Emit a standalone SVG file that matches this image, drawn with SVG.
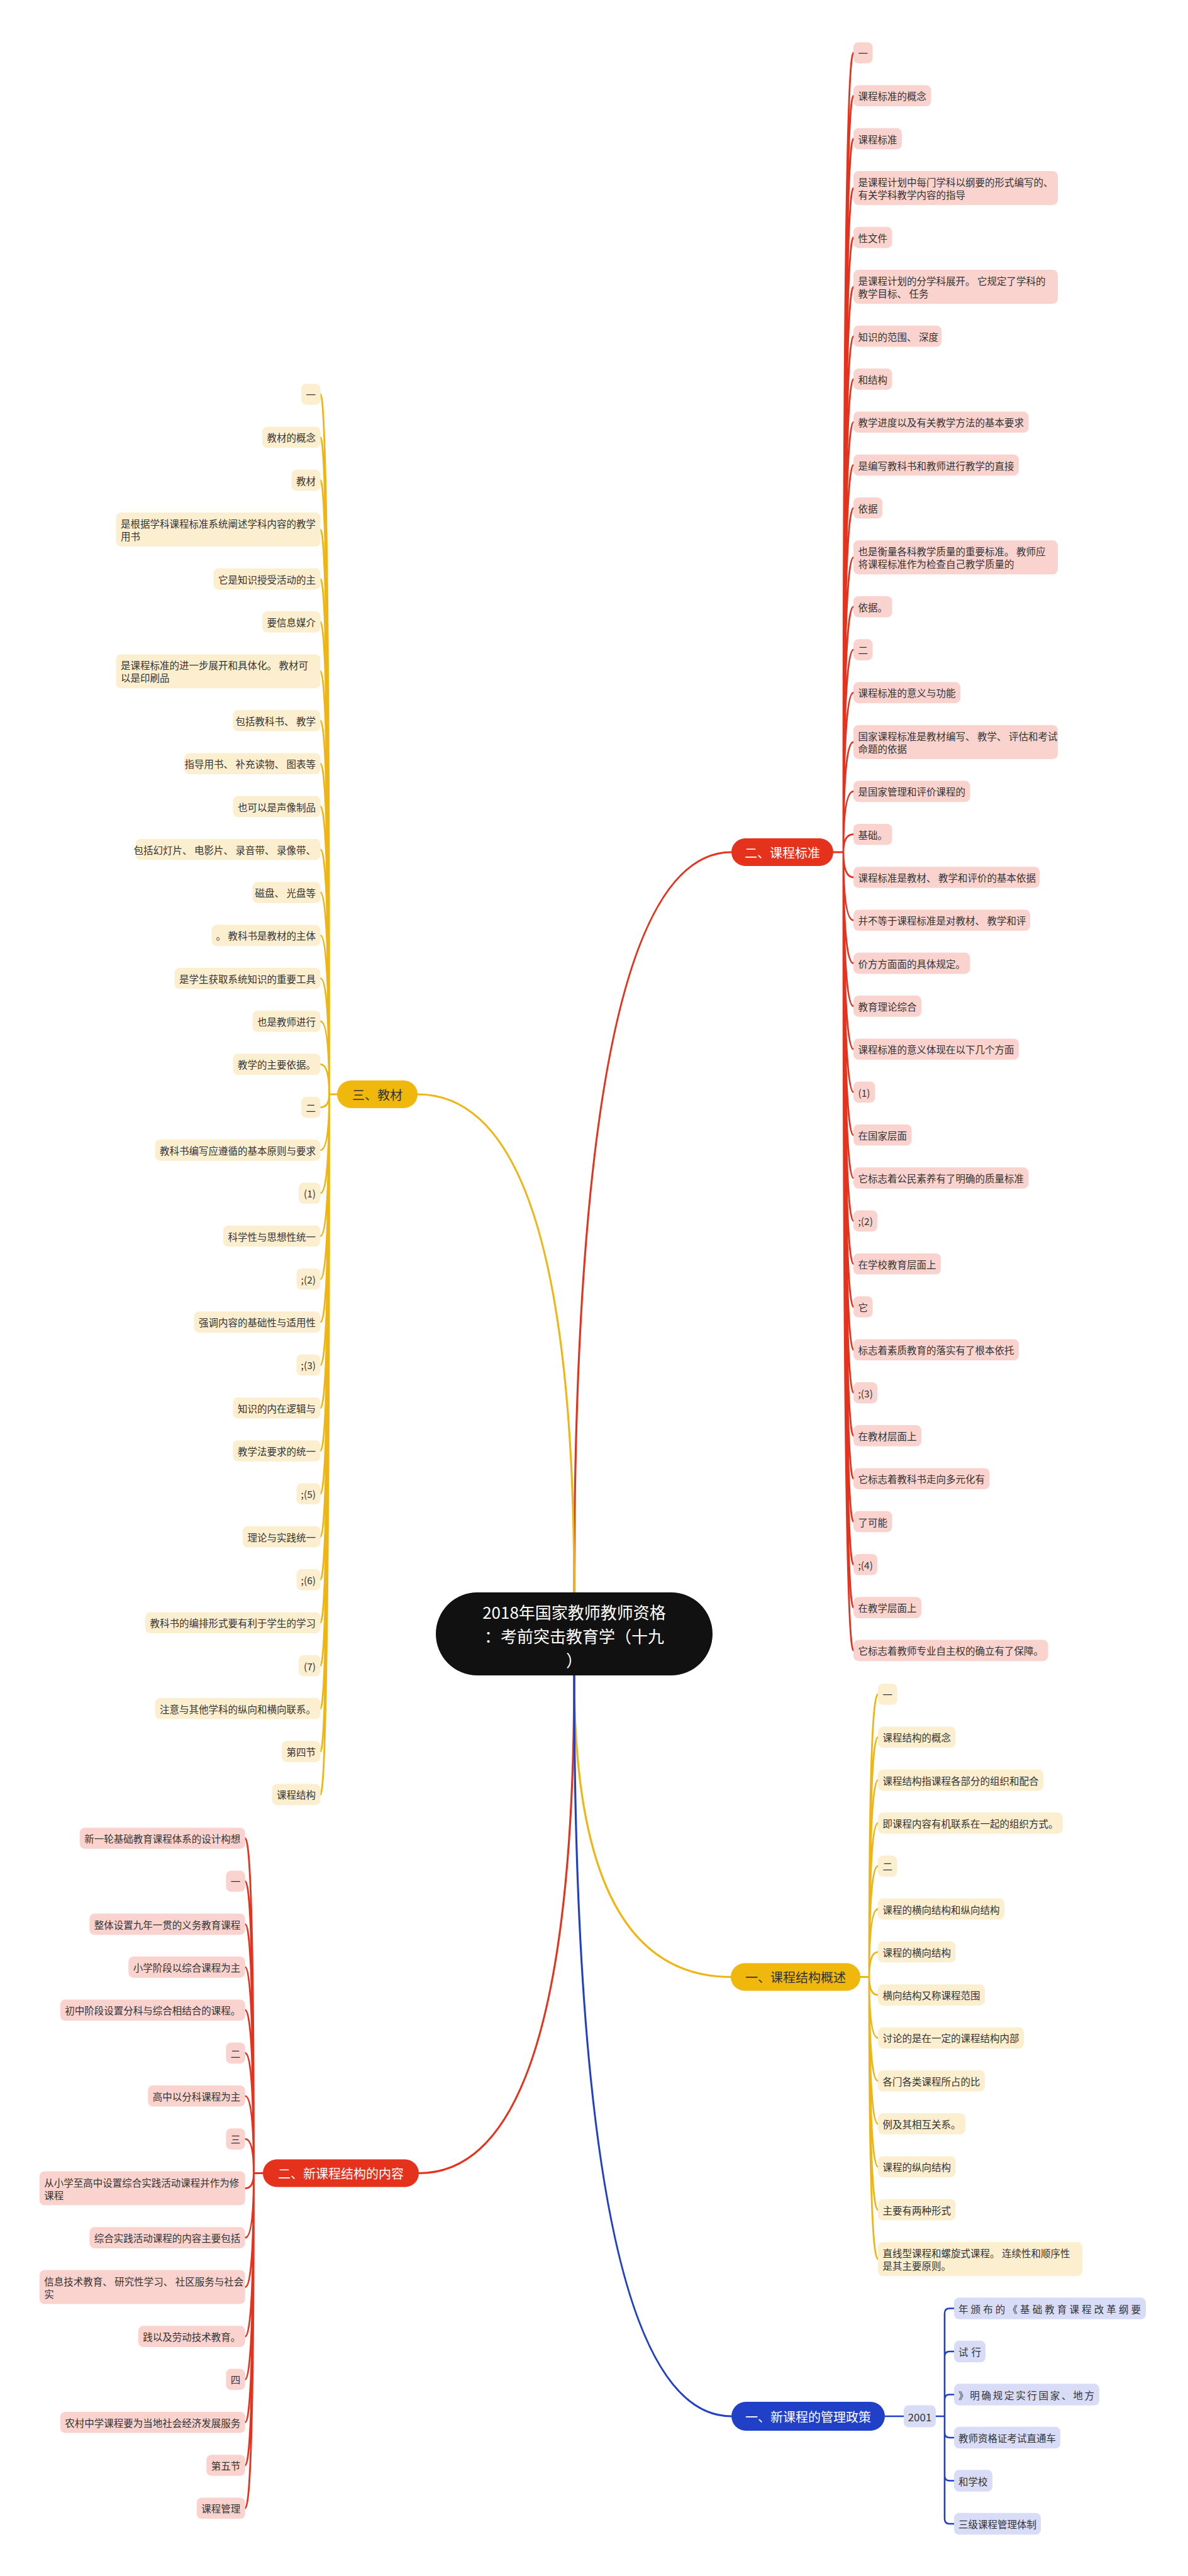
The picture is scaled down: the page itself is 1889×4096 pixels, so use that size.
<svg xmlns="http://www.w3.org/2000/svg" width="1889" height="4096" viewBox="0 0 1889 4096">
<style>
.t{font-family:"Noto Sans CJK SC","Noto Sans",sans-serif;font-size:15.5px;fill:#333;dominant-baseline:central}
.e{text-anchor:end}
.mid{text-anchor:middle}
.m{font-size:20px}
.w{fill:#fff}
.pr{fill:#FAD3CE}
.py{fill:#FCEFD0}
.pb{fill:#D9DCF6}
.cr{stroke:#E5321D;fill:none;stroke-width:2.8;stroke-linecap:round}
.cy{stroke:#EEB514;fill:none;stroke-width:2.8;stroke-linecap:round}
.cb{stroke:#2140C8;fill:none;stroke-width:2.6}
.mc{stroke-width:3.2}
</style>
<rect width="1889" height="4096" fill="#fff"/>
<g id="connectors">
<path class="cr mc" d="M913 2532Q913 1355 1163 1355"/>
<path class="cy mc" d="M913 2532Q913 1740 664 1740"/>
<path class="cy mc" d="M913 2664Q913 3143.5 1162 3143.5"/>
<path class="cr mc" d="M913 2664Q913 3455.5 666 3455.5"/>
<path class="cb mc" d="M913 2664Q913 3842 1163 3842"/>
<path class="cr" d="M1325 1355H1341M1341 1355Q1341 84 1357 84M1341 1355Q1341 152.3 1357 152.3M1341 1355Q1341 220.6 1357 220.6M1341 1355Q1341 299.1 1357 299.1M1341 1355Q1341 377.6 1357 377.6M1341 1355Q1341 456.1 1357 456.1M1341 1355Q1341 534.6 1357 534.6M1341 1355Q1341 602.9 1357 602.9M1341 1355Q1341 671.2 1357 671.2M1341 1355Q1341 739.5 1357 739.5M1341 1355Q1341 807.8 1357 807.8M1341 1355Q1341 886.3 1357 886.3M1341 1355Q1341 964.8 1357 964.8M1341 1355Q1341 1033.1 1357 1033.1M1341 1355Q1341 1101.4 1357 1101.4M1341 1355Q1341 1179.9 1357 1179.9M1341 1355Q1341 1258.4 1357 1258.4M1341 1355Q1341 1326.7 1357 1326.7M1341 1355Q1341 1395 1357 1395M1341 1355Q1341 1463.3 1357 1463.3M1341 1355Q1341 1531.6 1357 1531.6M1341 1355Q1341 1599.9 1357 1599.9M1341 1355Q1341 1668.2 1357 1668.2M1341 1355Q1341 1736.5 1357 1736.5M1341 1355Q1341 1804.8 1357 1804.8M1341 1355Q1341 1873.1 1357 1873.1M1341 1355Q1341 1941.4 1357 1941.4M1341 1355Q1341 2009.7 1357 2009.7M1341 1355Q1341 2078 1357 2078M1341 1355Q1341 2146.3 1357 2146.3M1341 1355Q1341 2214.6 1357 2214.6M1341 1355Q1341 2282.9 1357 2282.9M1341 1355Q1341 2351.2 1357 2351.2M1341 1355Q1341 2419.5 1357 2419.5M1341 1355Q1341 2487.8 1357 2487.8M1341 1355Q1341 2556.1 1357 2556.1M1341 1355Q1341 2624.4 1357 2624.4"/>
<path class="cy" d="M536 1740H523.5M523.5 1740Q523.5 627 509.5 627M523.5 1740Q523.5 695.3 509.5 695.3M523.5 1740Q523.5 763.6 509.5 763.6M523.5 1740Q523.5 842.1 509.5 842.1M523.5 1740Q523.5 920.6 509.5 920.6M523.5 1740Q523.5 988.9 509.5 988.9M523.5 1740Q523.5 1067.4 509.5 1067.4M523.5 1740Q523.5 1145.9 509.5 1145.9M523.5 1740Q523.5 1214.2 509.5 1214.2M523.5 1740Q523.5 1282.5 509.5 1282.5M523.5 1740Q523.5 1350.8 509.5 1350.8M523.5 1740Q523.5 1419.1 509.5 1419.1M523.5 1740Q523.5 1487.4 509.5 1487.4M523.5 1740Q523.5 1555.7 509.5 1555.7M523.5 1740Q523.5 1624 509.5 1624M523.5 1740Q523.5 1692.3 509.5 1692.3M523.5 1740Q523.5 1760.6 509.5 1760.6M523.5 1740Q523.5 1828.9 509.5 1828.9M523.5 1740Q523.5 1897.2 509.5 1897.2M523.5 1740Q523.5 1965.5 509.5 1965.5M523.5 1740Q523.5 2033.8 509.5 2033.8M523.5 1740Q523.5 2102.1 509.5 2102.1M523.5 1740Q523.5 2170.4 509.5 2170.4M523.5 1740Q523.5 2238.7 509.5 2238.7M523.5 1740Q523.5 2307 509.5 2307M523.5 1740Q523.5 2375.3 509.5 2375.3M523.5 1740Q523.5 2443.6 509.5 2443.6M523.5 1740Q523.5 2511.9 509.5 2511.9M523.5 1740Q523.5 2580.2 509.5 2580.2M523.5 1740Q523.5 2648.5 509.5 2648.5M523.5 1740Q523.5 2716.8 509.5 2716.8M523.5 1740Q523.5 2785.1 509.5 2785.1M523.5 1740Q523.5 2853.4 509.5 2853.4"/>
<path class="cy" d="M1368 3143.5H1382M1382 3143.5Q1382 2694 1396 2694M1382 3143.5Q1382 2762.3 1396 2762.3M1382 3143.5Q1382 2830.6 1396 2830.6M1382 3143.5Q1382 2898.9 1396 2898.9M1382 3143.5Q1382 2967.2 1396 2967.2M1382 3143.5Q1382 3035.5 1396 3035.5M1382 3143.5Q1382 3103.8 1396 3103.8M1382 3143.5Q1382 3172.1 1396 3172.1M1382 3143.5Q1382 3240.4 1396 3240.4M1382 3143.5Q1382 3308.7 1396 3308.7M1382 3143.5Q1382 3377 1396 3377M1382 3143.5Q1382 3445.3 1396 3445.3M1382 3143.5Q1382 3513.6 1396 3513.6M1382 3143.5Q1382 3592.1 1396 3592.1"/>
<path class="cr" d="M418 3455.5H403.5M403.5 3455.5Q403.5 2923 389.8 2923M403.5 3455.5Q403.5 2991.3 389.8 2991.3M403.5 3455.5Q403.5 3059.6 389.8 3059.6M403.5 3455.5Q403.5 3127.9 389.8 3127.9M403.5 3455.5Q403.5 3196.2 389.8 3196.2M403.5 3455.5Q403.5 3264.5 389.8 3264.5M403.5 3455.5Q403.5 3332.8 389.8 3332.8M403.5 3455.5Q403.5 3401.1 389.8 3401.1M403.5 3455.5Q403.5 3479.6 389.8 3479.6M403.5 3455.5Q403.5 3558.1 389.8 3558.1M403.5 3455.5Q403.5 3636.6 389.8 3636.6M403.5 3455.5Q403.5 3715.1 389.8 3715.1M403.5 3455.5Q403.5 3783.4 389.8 3783.4M403.5 3455.5Q403.5 3851.7 389.8 3851.7M403.5 3455.5Q403.5 3920 389.8 3920M403.5 3455.5Q403.5 3988.3 389.8 3988.3"/>
<path class="cb" d="M1407 3842H1437M1488 3842H1502M1502 3842V3678.5Q1502 3670.5 1510 3670.5H1517M1502 3842V3747Q1502 3739 1510 3739H1517M1502 3842V3815.5Q1502 3807.5 1510 3807.5H1517M1502 3842V3868Q1502 3876 1510 3876H1517M1502 3842V3936.5Q1502 3944.5 1510 3944.5H1517M1502 3842V4005Q1502 4013 1510 4013H1517"/>
</g>

<g id="center">
<rect x="693" y="2532" width="440" height="132" rx="66" fill="#111"/>
<text class="t mid w" style="font-size:26px" x="913" y="2562">2018年国家教师教师资格</text>
<text class="t mid w" style="font-size:26px" x="913" y="2600">：考前突击教育学（十九</text>
<text class="t mid w" style="font-size:26px" x="913" y="2638">）</text>
</g>

<g id="main-kcbz"><rect x="1163" y="1333" width="162" height="44" rx="22" fill="#E5321D"/><text class="t m mid w" x="1244" y="1355">二、课程标准</text></g>
<g id="main-jc"><rect x="536" y="1718" width="128" height="44" rx="22" fill="#F0B70C"/><text class="t m mid" x="600" y="1740">三、教材</text></g>
<g id="main-kcjg"><rect x="1162" y="3121.5" width="206" height="44" rx="22" fill="#F0B70C"/><text class="t m mid" x="1265" y="3143.5">一、课程结构概述</text></g>
<g id="main-xkcjg"><rect x="418" y="3433.5" width="248" height="44" rx="22" fill="#E5321D"/><text class="t m mid w" x="542" y="3455.5">二、新课程结构的内容</text></g>
<g id="main-glzc"><rect x="1163" y="3819" width="244" height="46" rx="23" fill="#2140C8"/><text class="t m mid w" x="1285" y="3842">一、新课程的管理政策</text></g>

<g id="r1"><rect class="pr" x="1357" y="67.2" width="30.5" height="33.6" rx="8"/><text class="t" x="1364.5" y="84">一</text></g>
<g id="r2"><rect class="pr" x="1357" y="135.5" width="123.5" height="33.6" rx="8"/><text class="t" x="1364.5" y="152.3">课程标准的概念</text></g>
<g id="r3"><rect class="pr" x="1357" y="203.8" width="77" height="33.6" rx="8"/><text class="t" x="1364.5" y="220.6">课程标准</text></g>
<g id="r4"><rect class="pr" x="1357" y="272.1" width="325" height="54" rx="8"/><text class="t" x="1364.5" y="289.1">是课程计划中每门学科以纲要的形式编写的、</text><text class="t" x="1364.5" y="309.1">有关学科教学内容的指导</text></g>
<g id="r5"><rect class="pr" x="1357" y="360.8" width="61.5" height="33.6" rx="8"/><text class="t" x="1364.5" y="377.6">性文件</text></g>
<g id="r6"><rect class="pr" x="1357" y="429.1" width="325" height="54" rx="8"/><text class="t" x="1364.5" y="446.1">是课程计划的分学科展开。 它规定了学科的</text><text class="t" x="1364.5" y="466.1">教学目标、 任务</text></g>
<g id="r7"><rect class="pr" x="1357" y="517.8" width="140" height="33.6" rx="8"/><text class="t" x="1364.5" y="534.6">知识的范围、 深度</text></g>
<g id="r8"><rect class="pr" x="1357" y="586.1" width="61.5" height="33.6" rx="8"/><text class="t" x="1364.5" y="602.9">和结构</text></g>
<g id="r9"><rect class="pr" x="1357" y="654.4" width="278.5" height="33.6" rx="8"/><text class="t" x="1364.5" y="671.2">教学进度以及有关教学方法的基本要求</text></g>
<g id="r10"><rect class="pr" x="1357" y="722.7" width="263" height="33.6" rx="8"/><text class="t" x="1364.5" y="739.5">是编写教科书和教师进行教学的直接</text></g>
<g id="r11"><rect class="pr" x="1357" y="791" width="46" height="33.6" rx="8"/><text class="t" x="1364.5" y="807.8">依据</text></g>
<g id="r12"><rect class="pr" x="1357" y="859.3" width="325" height="54" rx="8"/><text class="t" x="1364.5" y="876.3">也是衡量各科教学质量的重要标准。 教师应</text><text class="t" x="1364.5" y="896.3">将课程标准作为检查自己教学质量的</text></g>
<g id="r13"><rect class="pr" x="1357" y="948" width="61.5" height="33.6" rx="8"/><text class="t" x="1364.5" y="964.8">依据。</text></g>
<g id="r14"><rect class="pr" x="1357" y="1016.3" width="30.5" height="33.6" rx="8"/><text class="t" x="1364.5" y="1033.1">二</text></g>
<g id="r15"><rect class="pr" x="1357" y="1084.6" width="170" height="33.6" rx="8"/><text class="t" x="1364.5" y="1101.4">课程标准的意义与功能</text></g>
<g id="r16"><rect class="pr" x="1357" y="1152.9" width="325" height="54" rx="8"/><text class="t" x="1364.5" y="1169.9">国家课程标准是教材编写、 教学、 评估和考试</text><text class="t" x="1364.5" y="1189.9">命题的依据</text></g>
<g id="r17"><rect class="pr" x="1357" y="1241.6" width="185.5" height="33.6" rx="8"/><text class="t" x="1364.5" y="1258.4">是国家管理和评价课程的</text></g>
<g id="r18"><rect class="pr" x="1357" y="1309.9" width="61.5" height="33.6" rx="8"/><text class="t" x="1364.5" y="1326.7">基础。</text></g>
<g id="r19"><rect class="pr" x="1357" y="1378.2" width="296" height="33.6" rx="8"/><text class="t" x="1364.5" y="1395">课程标准是教材、 教学和评价的基本依据</text></g>
<g id="r20"><rect class="pr" x="1357" y="1446.5" width="281" height="33.6" rx="8"/><text class="t" x="1364.5" y="1463.3">并不等于课程标准是对教材、 教学和评</text></g>
<g id="r21"><rect class="pr" x="1357" y="1514.8" width="185.5" height="33.6" rx="8"/><text class="t" x="1364.5" y="1531.6">价方方面面的具体规定。</text></g>
<g id="r22"><rect class="pr" x="1357" y="1583.1" width="108" height="33.6" rx="8"/><text class="t" x="1364.5" y="1599.9">教育理论综合</text></g>
<g id="r23"><rect class="pr" x="1357" y="1651.4" width="263" height="33.6" rx="8"/><text class="t" x="1364.5" y="1668.2">课程标准的意义体现在以下几个方面</text></g>
<g id="r24"><rect class="pr" x="1357" y="1719.7" width="34.5" height="33.6" rx="8"/><text class="t" x="1364.5" y="1736.5">(1)</text></g>
<g id="r25"><rect class="pr" x="1357" y="1788" width="92.5" height="33.6" rx="8"/><text class="t" x="1364.5" y="1804.8">在国家层面</text></g>
<g id="r26"><rect class="pr" x="1357" y="1856.3" width="278.5" height="33.6" rx="8"/><text class="t" x="1364.5" y="1873.1">它标志着公民素养有了明确的质量标准</text></g>
<g id="r27"><rect class="pr" x="1357" y="1924.6" width="38" height="33.6" rx="8"/><text class="t" x="1364.5" y="1941.4">;(2)</text></g>
<g id="r28"><rect class="pr" x="1357" y="1992.9" width="139" height="33.6" rx="8"/><text class="t" x="1364.5" y="2009.7">在学校教育层面上</text></g>
<g id="r29"><rect class="pr" x="1357" y="2061.2" width="30.5" height="33.6" rx="8"/><text class="t" x="1364.5" y="2078">它</text></g>
<g id="r30"><rect class="pr" x="1357" y="2129.5" width="263" height="33.6" rx="8"/><text class="t" x="1364.5" y="2146.3">标志着素质教育的落实有了根本依托</text></g>
<g id="r31"><rect class="pr" x="1357" y="2197.8" width="38" height="33.6" rx="8"/><text class="t" x="1364.5" y="2214.6">;(3)</text></g>
<g id="r32"><rect class="pr" x="1357" y="2266.1" width="108" height="33.6" rx="8"/><text class="t" x="1364.5" y="2282.9">在教材层面上</text></g>
<g id="r33"><rect class="pr" x="1357" y="2334.4" width="216.5" height="33.6" rx="8"/><text class="t" x="1364.5" y="2351.2">它标志着教科书走向多元化有</text></g>
<g id="r34"><rect class="pr" x="1357" y="2402.7" width="61.5" height="33.6" rx="8"/><text class="t" x="1364.5" y="2419.5">了可能</text></g>
<g id="r35"><rect class="pr" x="1357" y="2471" width="38" height="33.6" rx="8"/><text class="t" x="1364.5" y="2487.8">;(4)</text></g>
<g id="r36"><rect class="pr" x="1357" y="2539.3" width="108" height="33.6" rx="8"/><text class="t" x="1364.5" y="2556.1">在教学层面上</text></g>
<g id="r37"><rect class="pr" x="1357" y="2607.6" width="309.5" height="33.6" rx="8"/><text class="t" x="1364.5" y="2624.4">它标志着教师专业自主权的确立有了保障。</text></g>

<g id="y1"><rect class="py" x="479" y="610.2" width="30.5" height="33.6" rx="8"/><text class="t e" x="502" y="627">一</text></g>
<g id="y2"><rect class="py" x="417" y="678.5" width="92.5" height="33.6" rx="8"/><text class="t e" x="502" y="695.3">教材的概念</text></g>
<g id="y3"><rect class="py" x="463.5" y="746.8" width="46" height="33.6" rx="8"/><text class="t e" x="502" y="763.6">教材</text></g>
<g id="y4"><rect class="py" x="184.5" y="815.1" width="325" height="54" rx="8"/><text class="t" x="192" y="832.1">是根据学科课程标准系统阐述学科内容的教学</text><text class="t" x="192" y="852.1">用书</text></g>
<g id="y5"><rect class="py" x="339.5" y="903.8" width="170" height="33.6" rx="8"/><text class="t e" x="502" y="920.6">它是知识授受活动的主</text></g>
<g id="y6"><rect class="py" x="417" y="972.1" width="92.5" height="33.6" rx="8"/><text class="t e" x="502" y="988.9">要信息媒介</text></g>
<g id="y7"><rect class="py" x="184.5" y="1040.4" width="325" height="54" rx="8"/><text class="t" x="192" y="1057.4">是课程标准的进一步展开和具体化。 教材可</text><text class="t" x="192" y="1077.4">以是印刷品</text></g>
<g id="y8"><rect class="py" x="370.5" y="1129.1" width="139" height="33.6" rx="8"/><text class="t e" x="502" y="1145.9">包括教科书、 教学</text></g>
<g id="y9"><rect class="py" x="293" y="1197.4" width="216.5" height="33.6" rx="8"/><text class="t e" x="502" y="1214.2">指导用书、 补充读物、 图表等</text></g>
<g id="y10"><rect class="py" x="370.5" y="1265.7" width="139" height="33.6" rx="8"/><text class="t e" x="502" y="1282.5">也可以是声像制品</text></g>
<g id="y11"><rect class="py" x="215.5" y="1334" width="294" height="33.6" rx="8"/><text class="t e" x="502" y="1350.8">包括幻灯片、 电影片、 录音带、 录像带、</text></g>
<g id="y12"><rect class="py" x="401.5" y="1402.3" width="108" height="33.6" rx="8"/><text class="t e" x="502" y="1419.1">磁盘、 光盘等</text></g>
<g id="y13"><rect class="py" x="336.5" y="1470.6" width="173" height="33.6" rx="8"/><text class="t e" x="502" y="1487.4">。 教科书是教材的主体</text></g>
<g id="y14"><rect class="py" x="277.5" y="1538.9" width="232" height="33.6" rx="8"/><text class="t e" x="502" y="1555.7">是学生获取系统知识的重要工具</text></g>
<g id="y15"><rect class="py" x="401.5" y="1607.2" width="108" height="33.6" rx="8"/><text class="t e" x="502" y="1624">也是教师进行</text></g>
<g id="y16"><rect class="py" x="370.5" y="1675.5" width="139" height="33.6" rx="8"/><text class="t e" x="502" y="1692.3">教学的主要依据。</text></g>
<g id="y17"><rect class="py" x="479" y="1743.8" width="30.5" height="33.6" rx="8"/><text class="t e" x="502" y="1760.6">二</text></g>
<g id="y18"><rect class="py" x="246.5" y="1812.1" width="263" height="33.6" rx="8"/><text class="t e" x="502" y="1828.9">教科书编写应遵循的基本原则与要求</text></g>
<g id="y19"><rect class="py" x="475" y="1880.4" width="34.5" height="33.6" rx="8"/><text class="t e" x="502" y="1897.2">(1)</text></g>
<g id="y20"><rect class="py" x="355" y="1948.7" width="154.5" height="33.6" rx="8"/><text class="t e" x="502" y="1965.5">科学性与思想性统一</text></g>
<g id="y21"><rect class="py" x="471.5" y="2017" width="38" height="33.6" rx="8"/><text class="t e" x="502" y="2033.8">;(2)</text></g>
<g id="y22"><rect class="py" x="308.5" y="2085.3" width="201" height="33.6" rx="8"/><text class="t e" x="502" y="2102.1">强调内容的基础性与适用性</text></g>
<g id="y23"><rect class="py" x="471.5" y="2153.6" width="38" height="33.6" rx="8"/><text class="t e" x="502" y="2170.4">;(3)</text></g>
<g id="y24"><rect class="py" x="370.5" y="2221.9" width="139" height="33.6" rx="8"/><text class="t e" x="502" y="2238.7">知识的内在逻辑与</text></g>
<g id="y25"><rect class="py" x="370.5" y="2290.2" width="139" height="33.6" rx="8"/><text class="t e" x="502" y="2307">教学法要求的统一</text></g>
<g id="y26"><rect class="py" x="471.5" y="2358.5" width="38" height="33.6" rx="8"/><text class="t e" x="502" y="2375.3">;(5)</text></g>
<g id="y27"><rect class="py" x="386" y="2426.8" width="123.5" height="33.6" rx="8"/><text class="t e" x="502" y="2443.6">理论与实践统一</text></g>
<g id="y28"><rect class="py" x="471.5" y="2495.1" width="38" height="33.6" rx="8"/><text class="t e" x="502" y="2511.9">;(6)</text></g>
<g id="y29"><rect class="py" x="231" y="2563.4" width="278.5" height="33.6" rx="8"/><text class="t e" x="502" y="2580.2">教科书的编排形式要有利于学生的学习</text></g>
<g id="y30"><rect class="py" x="475" y="2631.7" width="34.5" height="33.6" rx="8"/><text class="t e" x="502" y="2648.5">(7)</text></g>
<g id="y31"><rect class="py" x="246.5" y="2700" width="263" height="33.6" rx="8"/><text class="t e" x="502" y="2716.8">注意与其他学科的纵向和横向联系。</text></g>
<g id="y32"><rect class="py" x="448" y="2768.3" width="61.5" height="33.6" rx="8"/><text class="t e" x="502" y="2785.1">第四节</text></g>
<g id="y33"><rect class="py" x="432.5" y="2836.6" width="77" height="33.6" rx="8"/><text class="t e" x="502" y="2853.4">课程结构</text></g>

<g id="s1"><rect class="py" x="1396" y="2677.2" width="30.5" height="33.6" rx="8"/><text class="t" x="1403.5" y="2694">一</text></g>
<g id="s2"><rect class="py" x="1396" y="2745.5" width="123.5" height="33.6" rx="8"/><text class="t" x="1403.5" y="2762.3">课程结构的概念</text></g>
<g id="s3"><rect class="py" x="1396" y="2813.8" width="263" height="33.6" rx="8"/><text class="t" x="1403.5" y="2830.6">课程结构指课程各部分的组织和配合</text></g>
<g id="s4"><rect class="py" x="1396" y="2882.1" width="294" height="33.6" rx="8"/><text class="t" x="1403.5" y="2898.9">即课程内容有机联系在一起的组织方式。</text></g>
<g id="s5"><rect class="py" x="1396" y="2950.4" width="30.5" height="33.6" rx="8"/><text class="t" x="1403.5" y="2967.2">二</text></g>
<g id="s6"><rect class="py" x="1396" y="3018.7" width="201" height="33.6" rx="8"/><text class="t" x="1403.5" y="3035.5">课程的横向结构和纵向结构</text></g>
<g id="s7"><rect class="py" x="1396" y="3087" width="123.5" height="33.6" rx="8"/><text class="t" x="1403.5" y="3103.8">课程的横向结构</text></g>
<g id="s8"><rect class="py" x="1396" y="3155.3" width="170" height="33.6" rx="8"/><text class="t" x="1403.5" y="3172.1">横向结构又称课程范围</text></g>
<g id="s9"><rect class="py" x="1396" y="3223.6" width="232" height="33.6" rx="8"/><text class="t" x="1403.5" y="3240.4">讨论的是在一定的课程结构内部</text></g>
<g id="s10"><rect class="py" x="1396" y="3291.9" width="170" height="33.6" rx="8"/><text class="t" x="1403.5" y="3308.7">各门各类课程所占的比</text></g>
<g id="s11"><rect class="py" x="1396" y="3360.2" width="139" height="33.6" rx="8"/><text class="t" x="1403.5" y="3377">例及其相互关系。</text></g>
<g id="s12"><rect class="py" x="1396" y="3428.5" width="123.5" height="33.6" rx="8"/><text class="t" x="1403.5" y="3445.3">课程的纵向结构</text></g>
<g id="s13"><rect class="py" x="1396" y="3496.8" width="123.5" height="33.6" rx="8"/><text class="t" x="1403.5" y="3513.6">主要有两种形式</text></g>
<g id="s14"><rect class="py" x="1396" y="3565.1" width="325" height="54" rx="8"/><text class="t" x="1403.5" y="3582.1">直线型课程和螺旋式课程。 连续性和顺序性</text><text class="t" x="1403.5" y="3602.1">是其主要原则。</text></g>

<g id="c1"><rect class="pr" x="126.8" y="2906.2" width="263" height="33.6" rx="8"/><text class="t e" x="382.3" y="2923">新一轮基础教育课程体系的设计构想</text></g>
<g id="c2"><rect class="pr" x="359.3" y="2974.5" width="30.5" height="33.6" rx="8"/><text class="t e" x="382.3" y="2991.3">一</text></g>
<g id="c3"><rect class="pr" x="142.3" y="3042.8" width="247.5" height="33.6" rx="8"/><text class="t e" x="382.3" y="3059.6">整体设置九年一贯的义务教育课程</text></g>
<g id="c4"><rect class="pr" x="204.3" y="3111.1" width="185.5" height="33.6" rx="8"/><text class="t e" x="382.3" y="3127.9">小学阶段以综合课程为主</text></g>
<g id="c5"><rect class="pr" x="95.8" y="3179.4" width="294" height="33.6" rx="8"/><text class="t e" x="382.3" y="3196.2">初中阶段设置分科与综合相结合的课程。</text></g>
<g id="c6"><rect class="pr" x="359.3" y="3247.7" width="30.5" height="33.6" rx="8"/><text class="t e" x="382.3" y="3264.5">二</text></g>
<g id="c7"><rect class="pr" x="235.3" y="3316" width="154.5" height="33.6" rx="8"/><text class="t e" x="382.3" y="3332.8">高中以分科课程为主</text></g>
<g id="c8"><rect class="pr" x="359.3" y="3384.3" width="30.5" height="33.6" rx="8"/><text class="t e" x="382.3" y="3401.1">三</text></g>
<g id="c9"><rect class="pr" x="62.8" y="3452.6" width="327" height="54" rx="8"/><text class="t" x="70.3" y="3469.6">从小学至高中设置综合实践活动课程并作为修</text><text class="t" x="70.3" y="3489.6">课程</text></g>
<g id="c10"><rect class="pr" x="142.3" y="3541.3" width="247.5" height="33.6" rx="8"/><text class="t e" x="382.3" y="3558.1">综合实践活动课程的内容主要包括</text></g>
<g id="c11"><rect class="pr" x="62.8" y="3609.6" width="327" height="54" rx="8"/><text class="t" x="70.3" y="3626.6">信息技术教育、 研究性学习、 社区服务与社会</text><text class="t" x="70.3" y="3646.6">实</text></g>
<g id="c12"><rect class="pr" x="219.8" y="3698.3" width="170" height="33.6" rx="8"/><text class="t e" x="382.3" y="3715.1">践以及劳动技术教育。</text></g>
<g id="c13"><rect class="pr" x="359.3" y="3766.6" width="30.5" height="33.6" rx="8"/><text class="t e" x="382.3" y="3783.4">四</text></g>
<g id="c14"><rect class="pr" x="95.8" y="3834.9" width="294" height="33.6" rx="8"/><text class="t e" x="382.3" y="3851.7">农村中学课程要为当地社会经济发展服务</text></g>
<g id="c15"><rect class="pr" x="328.3" y="3903.2" width="61.5" height="33.6" rx="8"/><text class="t e" x="382.3" y="3920">第五节</text></g>
<g id="c16"><rect class="pr" x="312.8" y="3971.5" width="77" height="33.6" rx="8"/><text class="t e" x="382.3" y="3988.3">课程管理</text></g>

<g id="b2001"><rect class="pb" x="1437" y="3824.5" width="51" height="35" rx="8"/><text class="t mid" x="1462.5" y="3842" style="font-size:17px">2001</text></g>
<g id="b1"><rect class="pb" x="1517" y="3653.3" width="305" height="34.5" rx="8"/><text class="t" x="1524" y="3670.5" textLength="290" lengthAdjust="spacing">年颁布的《基础教育课程改革纲要</text></g>
<g id="b2"><rect class="pb" x="1517" y="3721.8" width="50" height="34.5" rx="8"/><text class="t" x="1524" y="3739" textLength="36" lengthAdjust="spacing">试行</text></g>
<g id="b3"><rect class="pb" x="1517" y="3790.3" width="231" height="34.5" rx="8"/><text class="t" x="1524" y="3807.5" textLength="216" lengthAdjust="spacing">》明确规定实行国家、地方</text></g>
<g id="b4"><rect class="pb" x="1517" y="3858.8" width="169" height="34.5" rx="8"/><text class="t" x="1524" y="3876">教师资格证考试直通车</text></g>
<g id="b5"><rect class="pb" x="1517" y="3927.3" width="61" height="34.5" rx="8"/><text class="t" x="1524" y="3944.5">和学校</text></g>
<g id="b6"><rect class="pb" x="1517" y="3995.8" width="138" height="34.5" rx="8"/><text class="t" x="1524" y="4013">三级课程管理体制</text></g>
</svg>
